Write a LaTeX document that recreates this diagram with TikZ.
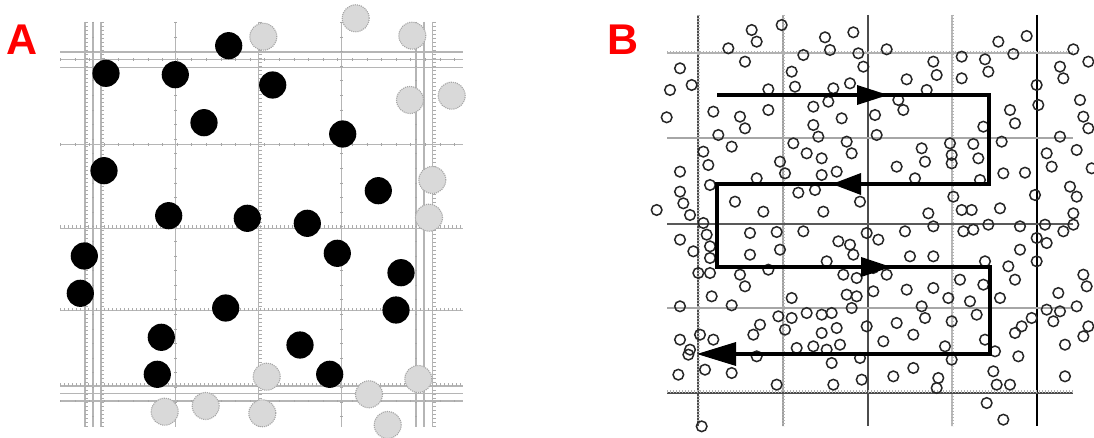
\documentclass[tikz,border=0pt]{standalone}
\usepackage{fontspec}
\setsansfont{Liberation Sans}
\usetikzlibrary{arrows.meta}
\begin{document}
\begin{tikzpicture}[x=1pt,y=-1pt,
  lbl/.style={font=\sffamily\bfseries\fontsize{43}{43}\selectfont, text=red, inner sep=0pt},
  agrid/.style={draw=gray!58, line width=1.1pt},
  aticks/.style={draw=gray!65, line width=3pt, dash pattern=on 0.6pt off 3.4pt},
  asparse/.style={draw=gray!70, line width=2.5pt, dash pattern=on 0.6pt off 14pt},
  bdot/.style={fill=black},
  gdot/.style={fill=gray!30, draw=gray!70, line width=1.1pt, densely dotted},
  bgrid/.style={line width=1.7pt},
  bticks/.style={draw=gray!60, line width=3pt, dash pattern=on 0.7pt off 2.3pt},
  bcirc/.style={draw=black!85, line width=1.5pt},
  route/.style={line width=4pt, line join=miter}]
\useasboundingbox (0,0) rectangle (1094,438);
\fill[white] (0,0) rectangle (1094,438);

% labels
\node[lbl] (labA) at (22,40) {A};
\node[lbl] (labB) at (623,40) {B};

% ---------------- Panel A grid ----------------
\foreach \y in {52,59.5,67.5,144.5,228.5,310.5,386,393.5,401}
  \draw[agrid] (60,\y) -- (463,\y);
\foreach \x in {85,93,101,175.5,258.5,341.5,416,424,432.5}
  \draw[agrid] (\x,22) -- (\x,427);
\foreach \y in {228.5,310.5,386}
  \draw[aticks] (60,\y-1.5) -- (463,\y-1.5);
\foreach \x in {85,101,258.5,432.5}
  \draw[aticks] (\x+1.5,22) -- (\x+1.5,427);
\foreach \y in {59.5,144.5,401}
  \draw[asparse] (60,\y) -- (463,\y);
\foreach \x in {93,175.5,341.5,416}
  \draw[asparse] (\x,22) -- (\x,427);

% black dots
\foreach \p in {(228.7,45.7),(106,73.3),(175.3,74.7),(272.7,85),(204,122.7),(342.7,134),
  (104,170.7),(378.3,190.7),(168.7,215.7),(247.3,218.3),(307.3,223.3),(337.3,253.3),
  (84.3,256),(401,272.7),(80.3,293.3),(225.7,308),(396,310),(161.3,337.3),(300,345),
  (157.3,374.3),(329.7,374.3)}
  \fill[bdot] \p circle[radius=13.6pt];

% grey dots
\foreach \p in {(263.3,36.7),(355.7,18.3),(412.3,35.7),(410,100),(451.7,95.7),(432.3,180),
  (429,217.7),(266.7,376.7),(418.3,379),(369,394.3),(164.7,411.7),(205.7,406),
  (262.3,413.3),(387.7,425)}
  \draw[gdot] \p circle[radius=13.5pt];

% ---------------- Panel B grid ----------------
\draw[bgrid, draw=black!70] (698,15) -- (698,426);
\draw[bticks] (698,15) -- (698,426);
\draw[bgrid, draw=gray!75] (783,15) -- (783,426);
\draw[bticks] (783,15) -- (783,426);
\draw[bgrid, draw=black!70] (868,15) -- (868,426);
\draw[bgrid, draw=gray!55] (952,15) -- (952,426);
\draw[bticks] (952,15) -- (952,426);
\draw[bgrid, draw=black] (1037,15) -- (1037,426);

\draw[bgrid, draw=gray!60] (667,53) -- (1073,53);
\draw[bticks] (667,53) -- (1073,53);
\draw[bgrid, draw=gray!70] (667,138) -- (1073,138);
\draw[bgrid, draw=black!65] (667,224) -- (1073,224);
\draw[bgrid, draw=gray!70] (667,308) -- (1073,308);
\draw[bgrid, draw=black!70] (667,393) -- (1073,393);
\draw[bticks] (667,391.5) -- (1073,391.5);

% small circles (coordinates from upper half)
\begin{scope}[shift={(640,0)}, x=0.33333pt, y=-0.33333pt]
\foreach \p in {(425,75),(335,90),(350,125),(640,97),(555,112),(570,150),(1160,108),(1075,125),
 (265,145),(315,185),(490,165),(740,148),(655,160),(670,200),(965,170),(1035,178),(1045,215),
 (1120,162),(1300,148),(1345,185),(880,185),(890,225),(120,205),(455,215),(465,260),(1260,200),
 (1270,235),(965,235),(800,238),(155,255),(90,270),(385,268),(580,265),(630,250),(860,270),
 (1190,255),(1195,315),(1320,300),(520,320),(565,305),(775,300),(790,330),(220,335),(300,350),
 (315,385),(385,330),(80,352),(705,345),(605,355),(1110,330),(1125,370),(1330,350),(1345,385),
 (520,375),(535,410),(1030,380),(235,405),(275,440),(710,405),(620,425),(635,460),(460,430),
 (1085,425),(1260,410),(930,430),(935,465),(935,490),(1000,432),(1015,475),(845,445),(855,485),
 (500,460),(545,475),(190,455),(205,495),(1220,460),(1235,500),(1310,450),(120,515),(770,500),
 (420,485),(435,520),(1090,520),(1155,518),(1355,505),(590,515),(545,525),(350,535),(825,535),
 (210,555),(1020,540),(475,578),(525,570),(120,575),(130,610),(1185,585),(1290,560),(1310,590),
 (50,630),(285,605),(370,635),(550,635),(660,605),(940,590),(865,640),(965,630),(995,630),
 (1080,625),(1300,640),(150,645)}
  \draw[bcirc] \p circle[radius=5.3pt];
\end{scope}
% small circles (lower half)
\begin{scope}[shift={(640,218)}, x=0.33333pt, y=-0.33333pt]
\foreach \p in {(190,15),(200,50),(210,85),(210,120),(175,165),(210,165),(160,100),(120,65),
 (330,45),(410,42),(490,40),(420,95),(330,110),(595,70),(630,80),(640,110),(610,170),(650,180),
 (700,150),(740,170),(680,45),(715,65),(795,40),(880,25),(560,130),(385,155),(300,170),(315,205),
 (810,115),(880,115),(970,40),(1000,35),(1045,20),(1140,25),(1215,20),(1270,40),(1300,20),
 (1220,75),(1190,60),(1140,95),(1190,130),(1035,130),(1105,145),(1125,185),(960,185),(1030,200),
 (1330,170),(1340,205),(215,235),(275,262),(120,265),(455,240),(415,295),(455,300),(435,335),
 (500,285),(545,290),(575,285),(545,345),(590,330),(360,320),(340,350),(620,230),(650,235),
 (700,220),(635,270),(800,215),(880,210),(925,240),(935,310),(990,250),(1010,290),(845,265),
 (855,300),(1080,240),(1255,225),(1310,265),(1260,280),(1240,310),(1220,275),(1175,300),
 (1145,325),(1125,345),(680,325),(770,315),(820,350),(730,370),(600,380),(560,395),(520,385),
 (470,390),(120,365),(180,350),(220,365),(150,395),(145,410),(1275,380),(1330,355),(1345,325),
 (1035,365),(915,385),(1065,400),(1135,415),(350,415),(575,435),(660,420),(935,425),(760,475),
 (820,450),(195,455),(115,470),(275,465),(410,500),(580,500),(665,485),(895,480),(890,510),
 (1060,460),(1070,500),(1110,500),(1040,555),(1090,605),(1275,475),(185,625)}
  \draw[bcirc] \p circle[radius=5.3pt];
\end{scope}

% serpentine route
\coordinate (r0) at (717,95);
\coordinate (r1) at (989,95);
\coordinate (r2) at (989,184);
\coordinate (r3) at (717,184);
\coordinate (r4) at (717,267);
\coordinate (r5) at (990,267);
\coordinate (r6) at (990,354);
\coordinate (r7) at (730,354);
\draw[route] (r0) -- (r1) -- (r2) -- (r3) -- (r4) -- (r5) -- (r6) -- (r7);
% arrowheads
\fill (857,85) -- (888,95) -- (857,105) -- cycle;
\fill (861,173) -- (832,184) -- (861,195) -- cycle;
\fill (861,257) -- (891,267) -- (861,277) -- cycle;
\fill (736,342) -- (697,354) -- (736,366) -- cycle;
\end{tikzpicture}
\end{document}
